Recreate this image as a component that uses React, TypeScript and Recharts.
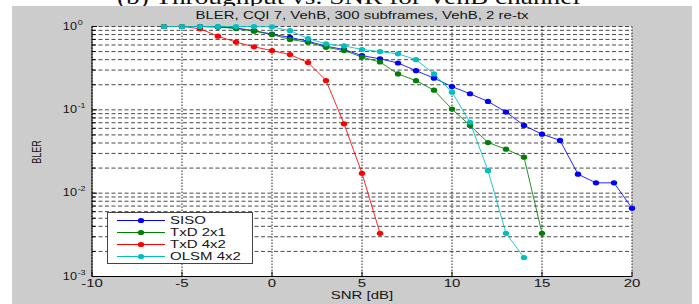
import React from 'react';
import { LineChart, Line, XAxis, YAxis, CartesianGrid, Legend } from 'recharts';

const snrSISO = [-6, -5, -4, -3, -2, -1, 0, 1, 2, 3, 4, 5, 6, 7, 8, 9, 10, 11, 12, 13, 14, 15, 16, 17, 18, 19, 20];
const blerSISO = [1, 1, 1, 0.99, 0.96, 0.89, 0.81, 0.74, 0.665, 0.58, 0.53, 0.447, 0.41, 0.365, 0.295, 0.24, 0.19, 0.156, 0.126, 0.094, 0.065, 0.051, 0.043, 0.0169, 0.0133, 0.0133, 0.0066];

const snrTxD21 = [-6, -5, -4, -3, -2, -1, 0, 1, 2, 3, 4, 5, 6, 7, 8, 9, 10, 11, 12, 13, 14, 15];
const blerTxD21 = [1, 1, 1, 0.985, 0.945, 0.88, 0.8, 0.7, 0.647, 0.563, 0.514, 0.43, 0.375, 0.27, 0.224, 0.172, 0.102, 0.065, 0.0405, 0.0337, 0.027, 0.0033];

const snrTxD42 = [-6, -5, -4, -3, -2, -1, 0, 1, 2, 3, 4, 5, 6];
const blerTxD42 = [1, 1, 0.94, 0.765, 0.65, 0.57, 0.514, 0.46, 0.37, 0.225, 0.068, 0.0173, 0.0033];

const snrOLSM = [-6, -5, -4, -3, -2, -1, 0, 1, 2, 3, 4, 5, 6, 7, 8, 9, 10, 11, 12, 13, 14];
const blerOLSM = [1, 1, 1, 1, 1, 1, 0.99, 0.89, 0.717, 0.62, 0.585, 0.53, 0.5, 0.47, 0.4, 0.27, 0.163, 0.071, 0.0186, 0.0033, 0.00169];

const seriesNames = ['SISO', 'TxD 2x1', 'TxD 4x2', 'OLSM 4x2'];
const seriesColors = ['#0000ff', '#008000', '#ff0000', '#00bfbf'];

const xTicks = [-10, -5, 0, 5, 10, 15, 20];
const yTicks = [
  0.001, 0.002, 0.003, 0.004, 0.005, 0.006, 0.007, 0.008, 0.009,
  0.01, 0.02, 0.03, 0.04, 0.05, 0.06, 0.07, 0.08, 0.09,
  0.1, 0.2, 0.3, 0.4, 0.5, 0.6, 0.7, 0.8, 0.9, 1,
];

const headerText = '(b) Throughput vs. SNR for VehB channel';
const titleText = 'BLER, CQI 7, VehB, 300 subframes, VehB, 2 re-tx';
const xLabel = 'SNR [dB]';
const yLabel = 'BLER';

const zip = (xs: number[], ys: number[]) => xs.map((snr, i) => ({ snr, bler: ys[i] }));
const seriesData = [
  zip(snrSISO, blerSISO),
  zip(snrTxD21, blerTxD21),
  zip(snrTxD42, blerTxD42),
  zip(snrOLSM, blerOLSM),
];

const FONT = '"Liberation Sans", Arial, Helvetica, sans-serif';
const FS = 10;
const SX = 1.5;
const TXT = '#151515';

const XTick = (props: any) => {
  const { x, y, payload } = props;
  return (
    <g>
      <line x1={x} x2={x} y1={y} y2={y - 5} stroke="#000" strokeWidth={1} />
      <text
        transform={`translate(${x},${y + 10.5}) scale(${SX},1)`}
        textAnchor="middle"
        fontSize={FS}
        fontFamily={FONT}
        fill={TXT}
      >
        {payload.value}
      </text>
    </g>
  );
};

const YTick = (props: any) => {
  const { x, y, payload } = props;
  const v = payload.value as number;
  const lg = Math.log10(v);
  const e = Math.round(lg);
  const major = Math.abs(lg - e) < 1e-6;
  return (
    <g>
      <line x1={x} x2={x + (major ? 5 : 3.5)} y1={y} y2={y} stroke="#000" strokeWidth={1} />
      {major && (
        <g transform={`translate(${x - 15},${y})`}>
          <text transform={`scale(${SX * 0.85},1)`} x={0} y={3.2} textAnchor="end" fontSize={FS} fontFamily={FONT} fill={TXT}>
            10
          </text>
          <text transform={`scale(${SX * 0.85},1)`} x={0.5} y={-2} textAnchor="start" fontSize={7} fontFamily={FONT} fill={TXT}>
            {e}
          </text>
        </g>
      )}
    </g>
  );
};

const Dot = (color: string) => (p: any) => (
  <ellipse key={`d-${p.index}-${p.cx}`} cx={p.cx} cy={p.cy} rx={3.2} ry={2.6} fill={color} stroke="none" />
);

const LegendBox = () => (
  <svg width={147} height={53} style={{ display: 'block' }}>
    <rect x={0.5} y={0.5} width={145} height={51} fill="#fff" stroke="#444" strokeWidth={1} />
    {seriesNames.map((n, i) => {
      const ry = 8.5 + i * 12;
      return (
        <g key={n}>
          <line x1={10} x2={58} y1={ry} y2={ry} stroke={seriesColors[i]} strokeWidth={1} />
          <ellipse cx={34} cy={ry} rx={3.2} ry={2.6} fill={seriesColors[i]} />
          <text
            transform={`translate(63,${ry + 3.6}) scale(${SX},1)`}
            fontSize={FS}
            fontFamily={FONT}
            fill={TXT}
          >
            {n}
          </text>
        </g>
      );
    })}
  </svg>
);

export default function App() {
  return (
    <div
      style={{
        position: 'absolute',
        left: 0,
        top: 0,
        width: 699,
        height: 304,
        background: '#fff',
        overflow: 'hidden',
      }}
    >
      <svg width={699} height={6} style={{ position: 'absolute', left: 0, top: 0 }}>
        <text
          x={117}
          y={3.5}
          textLength={463}
          lengthAdjust="spacingAndGlyphs"
          fontSize={22}
          fontFamily='"Liberation Serif", "DejaVu Serif", serif'
          fill="#111"
        >
          {headerText}
        </text>
      </svg>
      <div
        style={{
          position: 'absolute',
          left: 12,
          top: 6,
          width: 680,
          height: 298,
          background: '#cccccc',
        }}
      >
        <LineChart width={680} height={298} margin={{ top: 20.5, right: 60, left: 0, bottom: 0 }}>
          <CartesianGrid vertical={false} fill="#ffffff" stroke="#4a4a4a" strokeDasharray="4 2.5" />
          <CartesianGrid horizontal={false} stroke="#222" strokeDasharray="1.5 1.5" />
          <XAxis
            dataKey="snr"
            type="number"
            domain={[-10, 20]}
            ticks={xTicks}
            interval={0}
            height={27.5}
            tickSize={0}
            tickMargin={0}
            tickLine={false}
            axisLine={{ stroke: '#000' }}
            tick={<XTick />}
          />
          <YAxis
            type="number"
            scale="log"
            domain={[0.001, 1]}
            ticks={yTicks}
            interval={0}
            width={80}
            tickSize={0}
            tickMargin={0}
            tickLine={false}
            axisLine={{ stroke: '#000' }}
            tick={<YTick />}
          />
          {seriesData.map((d, i) => (
            <Line
              key={seriesNames[i]}
              data={d}
              dataKey="bler"
              name={seriesNames[i]}
              stroke={seriesColors[i]}
              strokeWidth={1}
              strokeOpacity={0.85}
              dot={Dot(seriesColors[i])}
              activeDot={false}
              isAnimationActive={false}
            />
          ))}
          <Legend
            layout="horizontal"
            verticalAlign="middle"
            align="center"
            content={() => <LegendBox />}
            wrapperStyle={{ position: 'absolute', left: 95, top: 206, width: 147, height: 53 }}
          />
        </LineChart>
        <svg
          width={680}
          height={298}
          style={{ position: 'absolute', left: 0, top: 0, pointerEvents: 'none' }}
        >
          <text
            transform={`translate(350,12.8) scale(${SX},1)`}
            textAnchor="middle"
            fontSize={FS}
            fontFamily={FONT}
            fill={TXT}
          >
            {titleText}
          </text>
          <text
            transform={`translate(350,292.5) scale(${SX},1)`}
            textAnchor="middle"
            fontSize={FS}
            fontFamily={FONT}
            fill={TXT}
          >
            {xLabel}
          </text>
          <text
            transform={`translate(29,146) scale(${SX},1) rotate(-90)`}
            textAnchor="middle"
            fontSize={9}
            fontFamily={FONT}
            fill={TXT}
          >
            {yLabel}
          </text>
        </svg>
      </div>
    </div>
  );
}
